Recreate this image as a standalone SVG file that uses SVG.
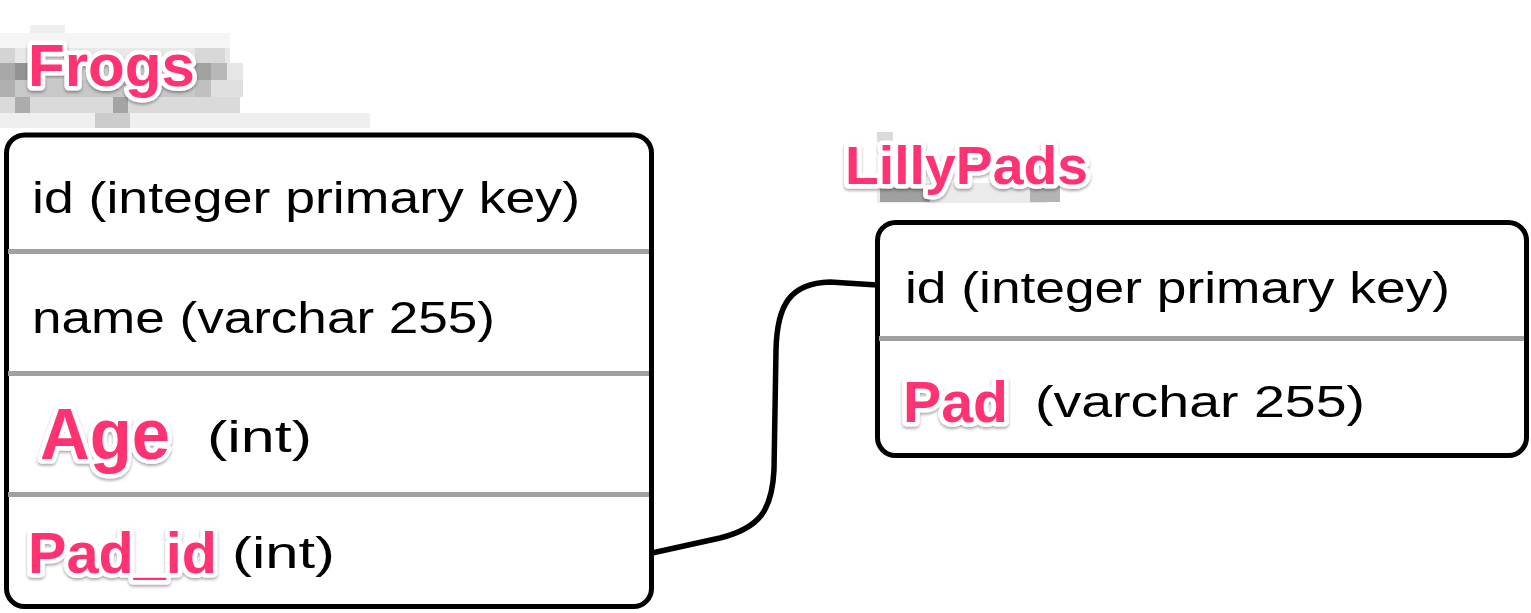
<svg xmlns="http://www.w3.org/2000/svg" width="1531" height="613" viewBox="0 0 1531 613">
<defs>
<style>
.tbl{fill:#fff;stroke:#000;stroke-width:5}
.div{fill:#a0a0a0}
.hand{font-family:"Liberation Sans",Arial,sans-serif;font-size:44px;fill:#000}
.lbl{font-family:"Liberation Sans",Arial,sans-serif;font-weight:bold;fill:#ff3272;stroke:#fff;stroke-width:9;stroke-linejoin:round;paint-order:stroke;filter:url(#sh)}
.conn{fill:none;stroke:#000;stroke-width:5.5;stroke-linecap:round}
</style>
<filter id="sh" x="-10%" y="-20%" width="120%" height="150%">
<feGaussianBlur in="SourceAlpha" stdDeviation="1.5"/>
<feOffset dx="0" dy="2" result="b"/>
<feComponentTransfer><feFuncA type="linear" slope="0.35"/></feComponentTransfer>
<feMerge><feMergeNode/><feMergeNode in="SourceGraphic"/></feMerge>
</filter>
</defs>
<rect width="1531" height="613" fill="#fff"/>
<g id="mosaic-frogs">
<rect x="30" y="25" width="35" height="8" fill="#efefef"/>
<rect x="0" y="33" width="230" height="15" fill="#f5f5f5"/>
<rect x="0" y="48" width="230" height="15" fill="#e8e8e8"/>
<rect x="0" y="48" width="15" height="15" fill="#d4d4d4"/>
<rect x="195" y="48" width="30" height="15" fill="#d8d8d8"/>
<rect x="0" y="63" width="240" height="17" fill="#d2d2d2"/>
<rect x="0" y="63" width="15" height="17" fill="#a8a8a8"/>
<rect x="15" y="63" width="15" height="17" fill="#939393"/>
<rect x="195" y="63" width="16" height="17" fill="#a2a2a2"/>
<rect x="211" y="63" width="16" height="17" fill="#b8b8b8"/>
<rect x="227" y="63" width="16" height="17" fill="#e6e6e6"/>
<rect x="0" y="80" width="243" height="17" fill="#c8c8c8"/>
<rect x="0" y="80" width="15" height="17" fill="#b0b0b0"/>
<rect x="195" y="80" width="16" height="17" fill="#c0c0c0"/>
<rect x="211" y="80" width="32" height="17" fill="#e0e0e0"/>
<rect x="0" y="97" width="240" height="16" fill="#dadada"/>
<rect x="15" y="97" width="15" height="16" fill="#acacac"/>
<rect x="113" y="97" width="15" height="16" fill="#a4a4a4"/>
<rect x="0" y="113" width="370" height="15" fill="#efefef"/>
<rect x="95" y="113" width="35" height="15" fill="#cccccc"/>
</g>
<g id="mosaic-lillypads">
<rect x="877" y="132" width="16" height="10" fill="#dadada"/>
<rect x="877" y="183" width="170" height="20" fill="#ebebeb"/>
<rect x="880" y="186" width="50" height="16" fill="#a0a0a0"/>
<rect x="1030" y="186" width="30" height="16" fill="#b4b4b4"/>
</g>
<g id="connectors">
<path class="conn" d="M652,553 L720,538 C760,528 772,510 774,470 L776,350 C777,305 790,283 830,282 L877,285"/>
</g>
<g id="frogs">
<rect class="tbl" x="6.5" y="135" width="645" height="471.5" rx="18"/>
<rect class="div" x="8" y="249" width="641" height="5"/>
<rect class="div" x="8" y="371" width="641" height="5"/>
<rect class="div" x="8" y="492" width="641" height="5"/>
<text class="hand" x="32" y="213" textLength="548" lengthAdjust="spacingAndGlyphs">id (integer primary key)</text>
<text class="hand" x="32" y="333" textLength="463" lengthAdjust="spacingAndGlyphs">name (varchar 255)</text>
<text class="hand" x="207" y="452" textLength="105" lengthAdjust="spacingAndGlyphs">(int)</text>
<text class="hand" x="232" y="568" textLength="103" lengthAdjust="spacingAndGlyphs">(int)</text>
<text class="lbl" x="28" y="86" font-size="60" textLength="167" lengthAdjust="spacingAndGlyphs">Frogs</text>
<text class="lbl" x="40" y="459" font-size="72" textLength="130" lengthAdjust="spacingAndGlyphs">Age</text>
<text class="lbl" x="28" y="573" font-size="57" textLength="189" lengthAdjust="spacingAndGlyphs">Pad_id</text>
</g>
<g id="lillypads">
<rect class="tbl" x="877.5" y="222.5" width="649" height="233" rx="18"/>
<rect class="div" x="879" y="336" width="645" height="5"/>
<text class="hand" x="905" y="303" textLength="545" lengthAdjust="spacingAndGlyphs">id (integer primary key)</text>
<text class="hand" x="1035" y="417" textLength="330" lengthAdjust="spacingAndGlyphs">(varchar 255)</text>
<text class="lbl" x="845" y="184" font-size="53" textLength="243" lengthAdjust="spacingAndGlyphs">LillyPads</text>
<text class="lbl" x="903" y="422" font-size="57" textLength="105" lengthAdjust="spacingAndGlyphs">Pad</text>
</g>
</svg>
